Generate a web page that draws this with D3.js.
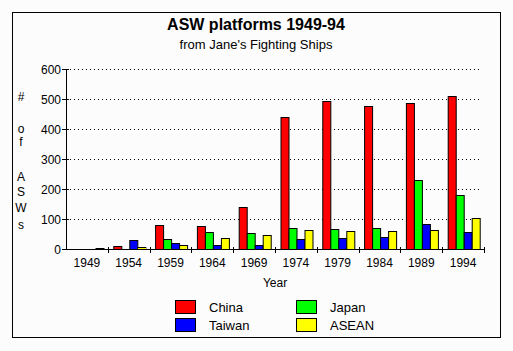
<!DOCTYPE html>
<html>
<head>
<meta charset="utf-8">
<script src="https://cdn.jsdelivr.net/npm/d3@7"></script>
<style>
  body { margin: 0; background: #fcfcfc; }
  svg { display: block; font-family: "Liberation Sans", Arial, sans-serif; }
</style>
</head>
<body>
<svg width="513" height="351"></svg>
<script>
(function () {

  // data
  var years = ['1949', '1954', '1959', '1964', '1969', '1974', '1979', '1984', '1989', '1994']
  var series = ['China', 'Japan', 'Taiwan', 'ASEAN']
  var colours = ['#ff0000', '#00ff00', '#0000ff', '#ffff00']
  var china  = [0, 10, 81, 77, 141, 440, 493, 477, 487, 510]
  var japan  = [0, 0, 33, 57, 53, 70, 67, 70, 230, 180]
  var taiwan = [0, 30, 21, 14, 14, 33, 37, 40, 83, 57]
  var asean  = [3, 7, 14, 37, 48, 63, 60, 60, 63, 103]
  var yTicks = [0, 100, 200, 300, 400, 500, 600]
  var yTitle = ['#', 'o', 'f', 'A', 'S', 'W', 's']

  var values = [china, japan, taiwan, asean]

  var svg = d3.select('svg')

  // outer frame
  svg.append('rect')
    .attr('x', 12.5).attr('y', 12.5)
    .attr('width', 488).attr('height', 325)
    .attr('fill', '#fcfcfc').attr('stroke', '#000')

  var x = d3.scaleBand().domain(years).range([66, 484])
  var inner = d3.scaleBand().domain(series).range([0, 32])
  var y = d3.scaleLinear().domain([0, 600]).range([249, 69])

  // dotted grid
  svg.selectAll('.grid')
    .data(yTicks.slice(1))
    .enter().append('line')
    .attr('x1', 66).attr('x2', 482)
    .attr('y1', d => Math.round(y(d)) + 0.5)
    .attr('y2', d => Math.round(y(d)) + 0.5)
    .attr('stroke', '#000')
    .attr('stroke-dasharray', '1,3')

  // bars
  var groups = svg.selectAll('.year')
    .data(years)
    .enter().append('g')
    .attr('transform', d => 'translate(' + (x(d) + 5.5) + ',0)')

  groups.selectAll('rect')
    .data(function (d, i) {
      return series.map(function (s, j) { return { s: s, v: values[j][i], c: colours[j] } })
    })
    .enter().append('rect')
    .filter(d => d.v > 0)
    .attr('x', d => inner(d.s) + 0.5)
    .attr('y', d => Math.round(y(d.v)) + 0.5)
    .attr('width', inner.bandwidth())
    .attr('height', d => 249 - Math.round(y(d.v)))
    .attr('fill', d => d.c)
    .attr('stroke', '#000')
    .attr('stroke-width', 1)

  // y axis
  svg.append('line')
    .attr('x1', 66.5).attr('x2', 66.5)
    .attr('y1', 69).attr('y2', 250)
    .attr('stroke', '#000')

  svg.selectAll('.ytick')
    .data(yTicks)
    .enter().append('line')
    .attr('x1', 62).attr('x2', 69)
    .attr('y1', d => Math.round(y(d)) + 0.5)
    .attr('y2', d => Math.round(y(d)) + 0.5)
    .attr('stroke', '#000')

  svg.selectAll('.ylab')
    .data(yTicks)
    .enter().append('text')
    .attr('x', 61)
    .attr('y', d => y(d) + 4.5)
    .attr('text-anchor', 'end')
    .attr('font-size', 12)
    .text(d => d)

  // x axis
  svg.append('line')
    .attr('x1', 66).attr('x2', 485)
    .attr('y1', 249.5).attr('y2', 249.5)
    .attr('stroke', '#000')

  svg.selectAll('.xtick')
    .data(years)
    .enter().append('line')
    .attr('x1', d => Math.round(x(d) + x.bandwidth()) + 0.5)
    .attr('x2', d => Math.round(x(d) + x.bandwidth()) + 0.5)
    .attr('y1', 247).attr('y2', 253)
    .attr('stroke', '#000')

  svg.selectAll('.xlab')
    .data(years)
    .enter().append('text')
    .attr('x', d => x(d) + x.bandwidth() / 2)
    .attr('y', 267)
    .attr('text-anchor', 'middle')
    .attr('font-size', 12)
    .text(d => d)

  // titles
  svg.append('text')
    .attr('x', 256).attr('y', 30)
    .attr('text-anchor', 'middle')
    .attr('font-size', 16).attr('font-weight', 'bold')
    .text('ASW platforms 1949-94')

  svg.append('text')
    .attr('x', 256).attr('y', 49)
    .attr('text-anchor', 'middle')
    .attr('font-size', 13)
    .text("from Jane's Fighting Ships")

  svg.append('text')
    .attr('x', 275).attr('y', 287)
    .attr('text-anchor', 'middle')
    .attr('font-size', 12)
    .text('Year')

  var yTitleY = [97, 129, 142, 177, 192, 208, 225]
  svg.selectAll('.ytitle')
    .data(yTitle)
    .enter().append('text')
    .attr('x', 21)
    .attr('y', (d, i) => yTitleY[i] + 4)
    .attr('text-anchor', 'middle')
    .attr('font-size', 12)
    .text(d => d)

  // legend: China, Taiwan in first column; Japan, ASEAN in second
  var legend = [
    { name: 'China', c: colours[0], col: 0, row: 0 },
    { name: 'Taiwan', c: colours[2], col: 0, row: 1 },
    { name: 'Japan', c: colours[1], col: 1, row: 0 },
    { name: 'ASEAN', c: colours[3], col: 1, row: 1 }
  ]

  var items = svg.selectAll('.legend')
    .data(legend)
    .enter().append('g')
    .attr('transform', d => 'translate(' + (175 + d.col * 121) + ',' + (300 + d.row * 18) + ')')

  items.append('rect')
    .attr('x', 0.5).attr('y', 0.5)
    .attr('width', 20).attr('height', 13)
    .attr('fill', d => d.c)
    .attr('stroke', '#000')

  items.append('text')
    .attr('x', 34).attr('y', 12)
    .attr('font-size', 13)
    .text(d => d.name)

})()
</script>
</body>
</html>
